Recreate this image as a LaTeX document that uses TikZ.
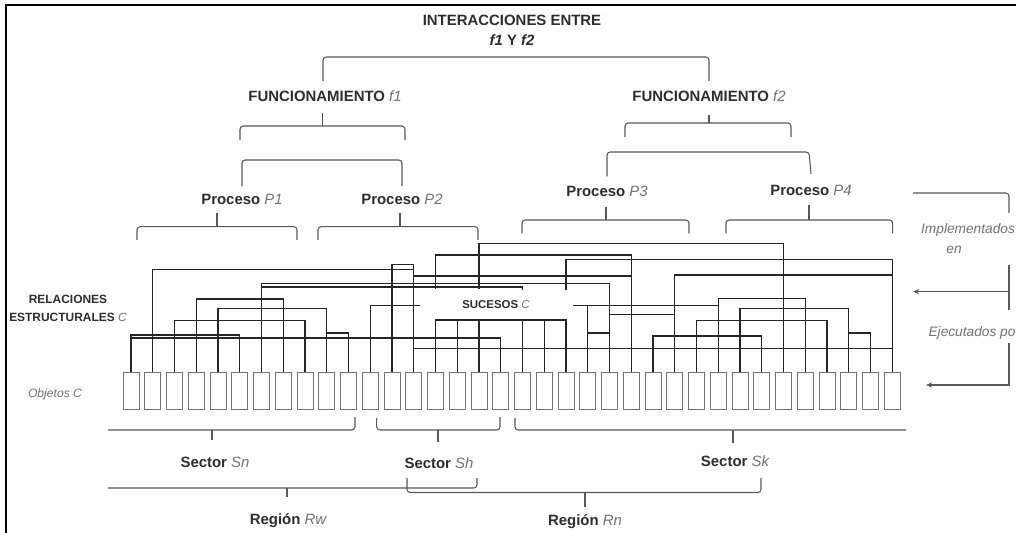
\documentclass[tikz,border=0pt]{standalone}
\usepackage{fontspec}
\setmainfont{Liberation Sans}
\usetikzlibrary{arrows.meta,positioning}
\definecolor{inkcolor}{gray}{0.18}
\definecolor{varcolor}{gray}{0.45}
\newcommand{\varit}[1]{{\normalfont\itshape\color{varcolor}#1}}

\begin{document}
\begin{tikzpicture}[x=0.02cm, y=-0.02cm,
    headlbl/.style={font=\fontsize{8.5}{11.3}\selectfont\bfseries, text=inkcolor,
                    align=center, inner sep=0pt},
    smalllbl/.style={font=\fontsize{6.8}{10.2}\selectfont\bfseries, text=inkcolor,
                     align=center, inner sep=0pt},
    notelbl/.style={font=\fontsize{7.8}{9}\selectfont\itshape, text=varcolor,
                    align=center, inner sep=0pt},
    obj/.style={draw=black!55, line width=0.5pt, minimum width=0.32cm,
                minimum height=0.74cm, inner sep=0pt},
    wire/.style={draw=black!85, line width=0.6pt},
    brk/.style={draw=black!65, line width=0.6pt, rounded corners=1.8pt},
    arr/.style={-{Stealth[length=3.5pt,width=3pt]}, draw=black!65, line width=0.6pt}
  ]
  \useasboundingbox (0,0) rectangle (1016,533);
  \fill[white] (0,0) rectangle (1016,533);
  \draw[line width=1.2pt] (6,533) -- (6,5) -- (1016,5);

  % objects
  \foreach \i in {0,...,35}
    \node[obj] (obj\i) at ({131+21.75*\i},390.5) {};

  % relations between objects
  \foreach \a/\b/\h in {1/13/269.5, 12/13/264.5, 6/22/283.5, 3/7/299, 4/9/308.5,
                        2/8/320.5, 0/5/335, 9/10/333, 0/17/338, 14/20/320,
                        21/22/333, 25/35/275, 27/31/298.5, 28/33/308.5,
                        26/32/320.5, 24/29/336, 33/34/333}
    \draw[wire] (obj\a.north) -- (obj\a.north |- 0,\h) -| (obj\b.north);
  \foreach \s/\b/\h/\e in {14/23/255/288.5, 16/30/243.5/288.5, 20/35/259.5/290}
    \draw[wire] (obj\s.north |- 0,\e) -- (obj\s.north |- 0,\h) -| (obj\b.north);
  \draw[wire] (obj6.north |- 0,287) -| (obj18.north |- 0,290);
  \foreach \a/\b/\h in {13/23/276, 22/25/314.5, 13/35/348.5}
    \draw[wire] (obj\a.north |- 0,\h) -- (obj\b.north |- 0,\h);
  \foreach \i/\h in {15/320, 16/320, 18/320, 19/320, 21/305.5}
    \draw[wire] (obj\i.north) -- (obj\i.north |- 0,\h);
  \coordinate (sucleft) at (420,305.5);
  \coordinate (sucright) at (573,305.5);
  \draw[wire] (obj11.north) |- (sucleft);
  \draw[wire] (sucright) -- (obj27.north |- sucright);

  % labels
  \node[headlbl] (title) at (512,30) {INTERACCIONES ENTRE\\\textit{f1} Y \textit{f2}};
  \node[headlbl] (fun1) at (325,96) {FUNCIONAMIENTO \varit{f1}};
  \node[headlbl] (fun2) at (709,96) {FUNCIONAMIENTO \varit{f2}};
  \node[headlbl] (pr1) at (242,199) {Proceso \varit{P1}};
  \node[headlbl] (pr2) at (402,199) {Proceso \varit{P2}};
  \node[headlbl] (pr3) at (607,191) {Proceso \varit{P3}};
  \node[headlbl] (pr4) at (811,190) {Proceso \varit{P4}};
  \node[smalllbl] (rel) at (68,308) {RELACIONES\\ESTRUCTURALES \varit{C}};
  \node[smalllbl, font=\fontsize{6.5}{8}\selectfont\bfseries] (suc) at (496,305) {SUCESOS \varit{C}};
  \node[notelbl, font=\fontsize{6.9}{8}\selectfont\itshape] (objlbl) at (55,394) {Objetos C};
  \node[headlbl] (sn) at (215,462) {Sector \varit{Sn}};
  \node[headlbl] (sh) at (439,463) {Sector \varit{Sh}};
  \node[headlbl] (sk) at (735,461) {Sector \varit{Sk}};
  \node[headlbl] (rw) at (288,521) {Región \varit{Rw}};
  \node[headlbl] (rn) at (585,522) {Región \varit{Rn}};
  \node[notelbl] (impl) at (968,230) {Implementados};
  \node[notelbl] (impl2) at (954,250) {en};
  \node[notelbl] (ejec) at (972,333) {Ejecutados po};

  % hierarchy brackets
  \draw[brk] (fun1.north -| 323,0) ++(0,-9) |- (709,57) -- (709,81);
  \draw[brk] (240,140) |- (405,126) -- (405,140);
  \draw[brk] (322.7,126) -- (322.7,113);
  \draw[brk] (pr1.north) ++(0,-7) |- (402,160) -- (pr2.north |- 0,186);
  \draw[brk] (625,137) |- (791,123) -- (791,137);
  \draw[brk] (709,123) -- (709,115);
  \draw[brk] (pr3.north) ++(0,-9) |- (809,152) -- (pr4.north |- 0,174);
  \foreach \l/\r/\h/\m/\t in {137/297/226.7/217/213, 318/478/226.7/400/213,
                               522/689/220/606/207, 726/892.7/220/809/205} {
    \draw[brk] (\l,\h+13.3) |- (\r,\h) -- (\r,\h+13.3);
    \draw[brk] (\m,\h) -- (\m,\t);
  }

  % sectors and regions
  \draw[brk] (108,430) -| (355,417);
  \draw[brk] (212,430) -- (212,440);
  \draw[brk] (376.7,418) |- (500,430) -- (500,417);
  \draw[brk] (438,430) -- (438,442);
  \draw[brk] (515,418) |- (906,430);
  \draw[brk] (733,430) -- (733,443);
  \draw[brk] (108,488) -| (477,478);
  \draw[brk] (287,488) -- (287,497);
  \draw[brk] (407,478) |- (761,492.5) -- (761,478);
  \draw[brk] (585,492.5) -- (585,507);

  % right annotations
  \coordinate (relin) at (913,291.7);
  \coordinate (objin) at (926,385);
  \draw[brk] (913,193) -| (1009,213);
  \draw[brk] (1009,265) -- (1009,310);
  \draw[arr] (1009,291.7) -- (relin);
  \draw[arr] (1009,343) |- (objin);
\end{tikzpicture}
\end{document}
